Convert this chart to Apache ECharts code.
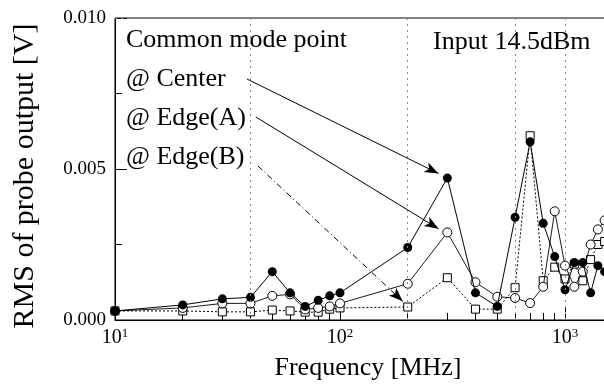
<!DOCTYPE html>
<html>
<head>
<meta charset="utf-8">
<script src="https://cdn.jsdelivr.net/npm/echarts@6/dist/echarts.min.js"></script>
<style>
html, body { margin: 0; padding: 0; background: #fff; }
#main { width: 604px; height: 389px; }
</style>
</head>
<body>
<div id="main"></div>
<script>
// frequencies [MHz]
var freqs = [10, 20, 30, 40, 50, 60, 70, 80, 90, 100, 200, 300, 400, 500, 600, 700, 800, 900, 1000, 1100, 1200, 1300, 1400, 1500];
// RMS of probe output [V]
var center = [0.0003, 0.0005, 0.0007, 0.00075, 0.0016, 0.0009, 0.00045, 0.00065, 0.0008, 0.0009, 0.0024, 0.0047, 0.0009, 0.00045, 0.0034, 0.0059, 0.0032, 0.0021, 0.001, 0.0019, 0.0019, 0.0009, 0.0018, 0.0016];
var edgeA = [0.0003, 0.0004, 0.00055, 0.00055, 0.0008, 0.00085, 0.00035, 0.0004, 0.00045, 0.00055, 0.0012, 0.0029, 0.00125, 0.00077, 0.00073, 0.00056, 0.0011, 0.0036, 0.0018, 0.0011, 0.0016, 0.0025, 0.003, 0.0033];
var edgeB = [0.0003, 0.0003, 0.00027, 0.00027, 0.00033, 0.0003, 0.00026, 0.00026, 0.00036, 0.0004, 0.00043, 0.0014, 0.00036, 0.00036, 0.00107, 0.0061, 0.0013, 0.00175, 0.00136, 0.00185, 0.0013, 0.002, 0.0025, 0.0026];

var gridFreqs = [40, 200, 600, 1000];   // dotted verticals that show in the scan
var gridVals = [0.0075];

var FONT = 'Liberation Serif';

function pairs(ys) {
    return freqs.map(function (f, i) { return [f, ys[i]]; });
}

// arrows from the legend text to the curves (data coords)
var arrows = [
    {from: [38.6, 0.00798], to: [274, 0.00485], type: 'solid'},
    {from: [42.3, 0.00672], to: [274, 0.00302], type: 'solid'},
    {from: [43.2, 0.0051], to: [190, 0.00062], type: [6, 3, 1, 3]}
];

var myChart = echarts.init(document.getElementById('main'));

var option = {
    backgroundColor: '#fff',
    animation: false,
    grid: {
        left: 115, width: 675, top: 18, bottom: 69,
        outerBoundsMode: 'none',
        show: true, borderColor: '#000', borderWidth: 1, backgroundColor: '#fff'
    },
    xAxis: {
        type: 'log', logBase: 10, min: 10, max: 10000,
        axisLine: {lineStyle: {color: '#000', width: 1}},
        axisTick: {inside: true, length: 12, lineStyle: {color: '#000'}},
        minorTick: {show: true, splitNumber: 9, length: 7, lineStyle: {color: '#000'}},
        splitLine: {show: false},
        axisLabel: {
            margin: 7, fontFamily: FONT, fontSize: 20, color: '#000',
            formatter: function (v) {
                return '{b|10}{s|' + Math.round(Math.log10(v)) + '}';
            },
            rich: {
                b: {fontFamily: FONT, fontSize: 20, color: '#000'},
                s: {fontFamily: FONT, fontSize: 13, color: '#000', padding: [0, 0, 9, 0]}
            }
        }
    },
    yAxis: {
        type: 'value', min: 0, max: 0.01, interval: 0.005,
        axisLine: {show: true, lineStyle: {color: '#000', width: 1}},
        axisTick: {inside: true, length: 12, lineStyle: {color: '#000'}},
        minorTick: {show: true, splitNumber: 2, length: 7, lineStyle: {color: '#000'}},
        splitLine: {show: false},
        axisLabel: {
            margin: 9, fontFamily: FONT, fontSize: 19, color: '#000',
            formatter: function (v) { return v.toFixed(3); }
        }
    },
    graphic: [
        {type: 'text', left: 126, top: 27, style: {text: 'Common mode point', font: '26px "Liberation Serif"', fill: '#000'}},
        {type: 'text', left: 433, top: 29, style: {text: 'Input 14.5dBm', font: '26px "Liberation Serif"', fill: '#000'}},
        {type: 'text', left: 126, top: 66, style: {text: '@ Center', font: '26px "Liberation Serif"', fill: '#000'}},
        {type: 'text', left: 126, top: 105, style: {text: '@ Edge(A)', font: '26px "Liberation Serif"', fill: '#000'}},
        {type: 'text', left: 126, top: 144, style: {text: '@ Edge(B)', font: '26px "Liberation Serif"', fill: '#000'}},
        {type: 'text', x: 368, y: 368, style: {text: 'Frequency [MHz]', font: '26px "Liberation Serif"', fill: '#000', align: 'center', verticalAlign: 'middle'}},
        {type: 'text', x: 25, y: 176, rotation: Math.PI / 2, style: {text: 'RMS of probe output [V]', font: '30px "Liberation Serif"', fill: '#000', align: 'center', verticalAlign: 'middle'}}
    ],
    series: [
        {
            name: '@ Center',
            type: 'line',
            data: pairs(center),
            symbol: 'circle', symbolSize: 9,
            itemStyle: {color: '#000'},
            lineStyle: {color: '#000', width: 1},
            z: 4,
            markLine: {
                silent: true,
                symbol: ['none', 'none'],
                label: {show: false},
                lineStyle: {color: '#888', type: [2, 4], width: 1},
                data: gridFreqs.map(function (f) { return {xAxis: f}; })
                    .concat(gridVals.map(function (v) { return {yAxis: v}; }))
            }
        },
        {
            name: '@ Edge(A)',
            type: 'line',
            data: pairs(edgeA),
            symbol: 'circle', symbolSize: 9,
            itemStyle: {color: '#fff', borderColor: '#000', borderWidth: 1},
            lineStyle: {color: '#000', width: 0.9},
            z: 3,
            markLine: {
                silent: true,
                symbol: ['none', 'arrow'],
                symbolSize: [8, 14],
                label: {show: false},
                itemStyle: {color: '#000'},
                data: arrows.map(function (a) {
                    return [
                        {coord: a.from, lineStyle: {color: '#000', width: 1, type: a.type}},
                        {coord: a.to}
                    ];
                })
            }
        },
        {
            name: '@ Edge(B)',
            type: 'line',
            data: pairs(edgeB),
            symbol: 'rect', symbolSize: 8,
            itemStyle: {color: '#fff', borderColor: '#000', borderWidth: 1},
            lineStyle: {color: '#000', width: 1, type: [2, 2]},
            z: 2
        }
    ]
};

myChart.setOption(option);
window.onresize = myChart.resize;
</script>
</body>
</html>
